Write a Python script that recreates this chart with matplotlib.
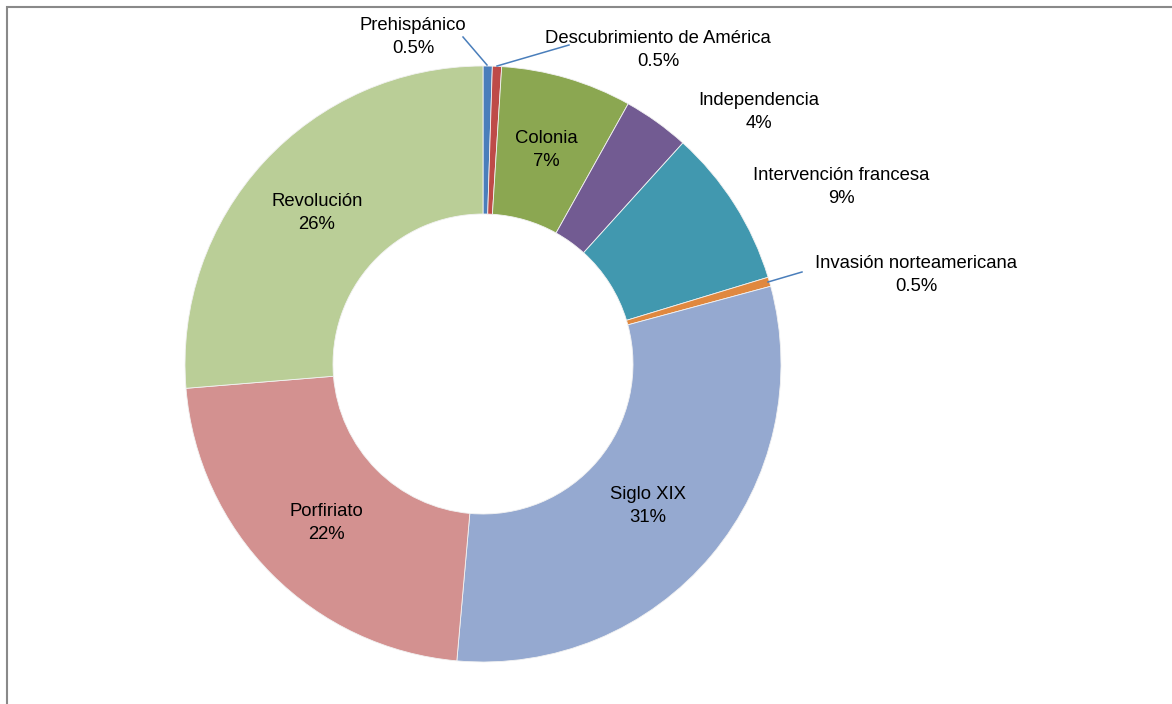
import matplotlib.pyplot as plt
from matplotlib.patches import Rectangle

plt.rcParams['font.family'] = ['Liberation Sans Narrow', 'Liberation Sans', 'DejaVu Sans']

# periods shown in the donut (clockwise from 12 o'clock)
periods = ['Prehispánico', 'Descubrimiento de América', 'Colonia', 'Independencia',
           'Intervención francesa', 'Invasión norteamericana', 'Siglo XIX',
           'Porfiriato', 'Revolución']
shares = [0.5, 0.5, 7.1, 3.6, 8.6, 0.5, 30.6, 22.3, 26.3]
colors = ['#4A7EBB', '#BE4B48', '#8BA751', '#725B92', '#4198AF', '#E0883F',
          '#95A9D0', '#D39190', '#BACE97']


def pct_text(v):
    return '{:.1f}%'.format(v) if v < 1 else '{:.0f}%'.format(v)


W, H = 1172, 704
fig = plt.figure(figsize=(W / 100, H / 100), dpi=100)
ax = fig.add_axes([0, 0, 1, 1])
ax.set_aspect('equal')

cx, cy = 483, H - 364
R = 298
ax.pie(shares, colors=colors, startangle=90, counterclock=False,
       center=(cx, cy), radius=R, frame=True,
       wedgeprops=dict(width=148, edgecolor='#f2f2f2', linewidth=0.6))
ax.set_xlim(0, W)
ax.set_ylim(0, H)
ax.axis('off')

# chart border (top and left visible)
ax.add_patch(Rectangle((7, -20), W + 40, H - 7 + 20, fill=False,
                       edgecolor='#898989', linewidth=1.5, clip_on=False))

# label positions in pixel space (x, y from top)
label_pos = [(413, 37), (658, 50), (546, 150), (759, 112), (841, 187),
             (916, 275), (648, 506), (326, 523), (317, 213)]
fs = 13.3
for name, v, (x, y) in zip(periods, shares, label_pos):
    ax.text(x, H - y, name + '\n' + pct_text(v), ha='center', va='center',
            fontsize=fs, linespacing=1.45, color='black')

# leader lines for the thin slices
leaders = [((463, 37), (487, 65)), ((569, 45), (497, 66)), ((802, 272), (768, 282))]
for (x0, y0), (x1, y1) in leaders:
    ax.plot([x0, x1], [H - y0, H - y1], color='#4A7EBB', linewidth=1.1)

fig.savefig('out.png', dpi=100)
